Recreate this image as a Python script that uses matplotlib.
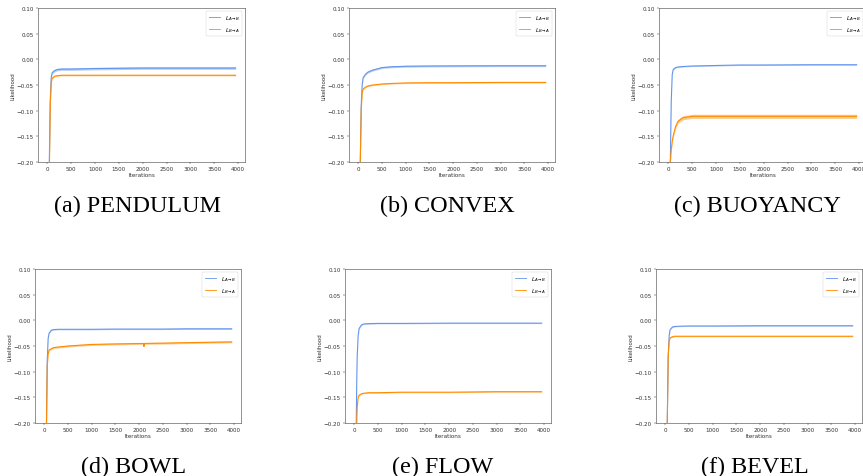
import matplotlib
matplotlib.use("Agg")
import matplotlib.pyplot as plt
import numpy as np

# ---------------- data ----------------
pendulum_x = [0, 40, 60, 80, 100, 150, 200, 300, 500, 1000, 2000, 3000, 3950]
pendulum_ab = [-0.60, -0.20, -0.08, -0.035, -0.026, -0.022, -0.020, -0.019, -0.019, -0.018, -0.017, -0.017, -0.017]
pendulum_ba = [-0.60, -0.22, -0.09, -0.045, -0.037, -0.033, -0.032, -0.031, -0.031, -0.031, -0.031, -0.031, -0.031]

convex_x = [0, 40, 60, 80, 100, 150, 200, 300, 500, 700, 1000, 1500, 2000, 3000, 3950]
convex_ab = [-0.60, -0.20, -0.09, -0.05, -0.036, -0.029, -0.025, -0.021, -0.016, -0.0145, -0.0135, -0.013, -0.0128, -0.0125, -0.0125]
convex_ba = [-0.60, -0.21, -0.10, -0.065, -0.058, -0.054, -0.052, -0.050, -0.048, -0.047, -0.046, -0.0455, -0.0455, -0.045, -0.045]

buoyancy_x = [0, 40, 60, 80, 100, 150, 200, 300, 500, 1000, 1500, 2000, 3000, 3950]
buoyancy_ab = [-0.60, -0.20, -0.08, -0.03, -0.020, -0.016, -0.015, -0.014, -0.013, -0.012, -0.011, -0.011, -0.0105, -0.0105]
buoyancy_ba = [-0.60, -0.20, -0.175, -0.160, -0.149, -0.131, -0.121, -0.114, -0.111, -0.111, -0.111, -0.111, -0.111, -0.111]

bowl_x = [0, 45, 60, 80, 100, 150, 200, 300, 500, 1000, 1500, 2090, 2100, 2110, 2500, 3000, 3950]
bowl_ab = [-0.60, -0.20, -0.08, -0.035, -0.025, -0.019, -0.018, -0.0175, -0.0175, -0.0175, -0.017, -0.017, -0.017, -0.017, -0.017, -0.0165, -0.0165]
bowl_ba = [-0.60, -0.20, -0.09, -0.065, -0.058, -0.055, -0.053, -0.052, -0.050, -0.047, -0.046, -0.045, -0.051, -0.045, -0.0445, -0.0435, -0.042]

flow_x = [0, 40, 50, 60, 80, 100, 150, 200, 300, 500, 1000, 2000, 3000, 3950]
flow_ab = [-0.60, -0.20, -0.12, -0.07, -0.03, -0.016, -0.009, -0.007, -0.0065, -0.006, -0.006, -0.0055, -0.0055, -0.0055]
flow_ba = [-0.60, -0.30, -0.20, -0.17, -0.150, -0.146, -0.143, -0.142, -0.141, -0.141, -0.140, -0.140, -0.139, -0.139]

bevel_x = [0, 40, 60, 80, 100, 150, 200, 300, 500, 1000, 2000, 3000, 3950]
bevel_ab = [-0.60, -0.20, -0.07, -0.03, -0.018, -0.013, -0.012, -0.0115, -0.011, -0.011, -0.0105, -0.0105, -0.0105]
bevel_ba = [-0.60, -0.20, -0.07, -0.04, -0.034, -0.032, -0.031, -0.031, -0.031, -0.031, -0.031, -0.031, -0.031]

# visible noise half-widths (A->B, B->A) per panel
noise_ab = [0.0025, 0.0018, 0.0010, 0.0010, 0.0008, 0.0008]
noise_ba = [0.0012, 0.0012, 0.0040, 0.0018, 0.0010, 0.0010]

captions = ["(a) PENDULUM", "(b) CONVEX", "(c) BUOYANCY", "(d) BOWL", "(e) FLOW", "(f) BEVEL"]
xticks = [0, 500, 1000, 1500, 2000, 2500, 3000, 3500, 4000]
yticks = [-0.20, -0.15, -0.10, -0.05, 0.00, 0.05, 0.10]

panels = [
    (pendulum_x, pendulum_ab, pendulum_ba),
    (convex_x, convex_ab, convex_ba),
    (buoyancy_x, buoyancy_ab, buoyancy_ba),
    (bowl_x, bowl_ab, bowl_ba),
    (flow_x, flow_ab, flow_ba),
    (bevel_x, bevel_ab, bevel_ba),
]

# ---------------- layout ----------------
W, H = 863, 477
fig = plt.figure(figsize=(W / 100, H / 100), dpi=100)

# axes boxes in pixels: left, top, right, bottom
boxes = [
    (38, 9, 245, 163),
    (349, 9, 555, 163),
    (659, 9, 866, 163),
    (35, 270, 241, 424),
    (345, 270, 551, 424),
    (656, 270, 862, 424),
]
cap_pos = [(137, 206), (447, 206), (757, 206), (134, 467), (443, 467), (755, 467)]

blue = "#6495ED"
orange = "#FF8C00"
fs = 4.1

for i, ((x, ab, ba), (l, t, r, b)) in enumerate(zip(panels, boxes)):
    ax = fig.add_axes([l / W, 1 - b / H, (r - l) / W, (b - t) / H])
    x = np.asarray(x)
    ab = np.asarray(ab)
    ba = np.asarray(ba)
    ax.fill_between(x, ab - noise_ab[i], ab + noise_ab[i], color=blue, alpha=0.45, lw=0)
    ax.fill_between(x, ba - noise_ba[i], ba + noise_ba[i], color=orange, alpha=0.45, lw=0)
    ax.plot(x, ab, color=blue, lw=0.8, label=r"$L_{A\rightarrow B}$")
    ax.plot(x, ba, color=orange, lw=0.8, label=r"$L_{B\rightarrow A}$")
    ax.set_xlim(-197.5, 4147.5)
    ax.set_ylim(-0.20, 0.10)
    ax.set_xticks(xticks)
    ax.set_yticks(yticks)
    ax.set_yticklabels([f"{v:.2f}".replace("-", "\u2212") for v in yticks])
    ax.tick_params(labelsize=fs, length=1.5, width=0.35, pad=1.5, colors="#333333", labelcolor="#333333")
    for s in ax.spines.values():
        s.set_linewidth(0.45)
        s.set_color("#555555")
    ax.set_xlabel("Iterations", fontsize=fs, labelpad=0.8, color="#333333")
    ax.set_ylabel("Likelihood", fontsize=fs, labelpad=1.0, color="#333333")
    leg = ax.legend(loc="upper right", fontsize=fs, frameon=True, handlelength=2.0,
                    borderpad=0.4, labelspacing=0.5)
    leg.get_frame().set_linewidth(0.35)
    leg.get_frame().set_edgecolor("#cccccc")
    for ln in leg.get_lines():
        ln.set_linewidth(0.6)
    cx, cy = cap_pos[i]
    fig.text(cx / W, 1 - cy / H, captions[i], ha="center", va="center",
             family="Liberation Serif", fontsize=17.4)

fig.savefig("out.png", dpi=100)
